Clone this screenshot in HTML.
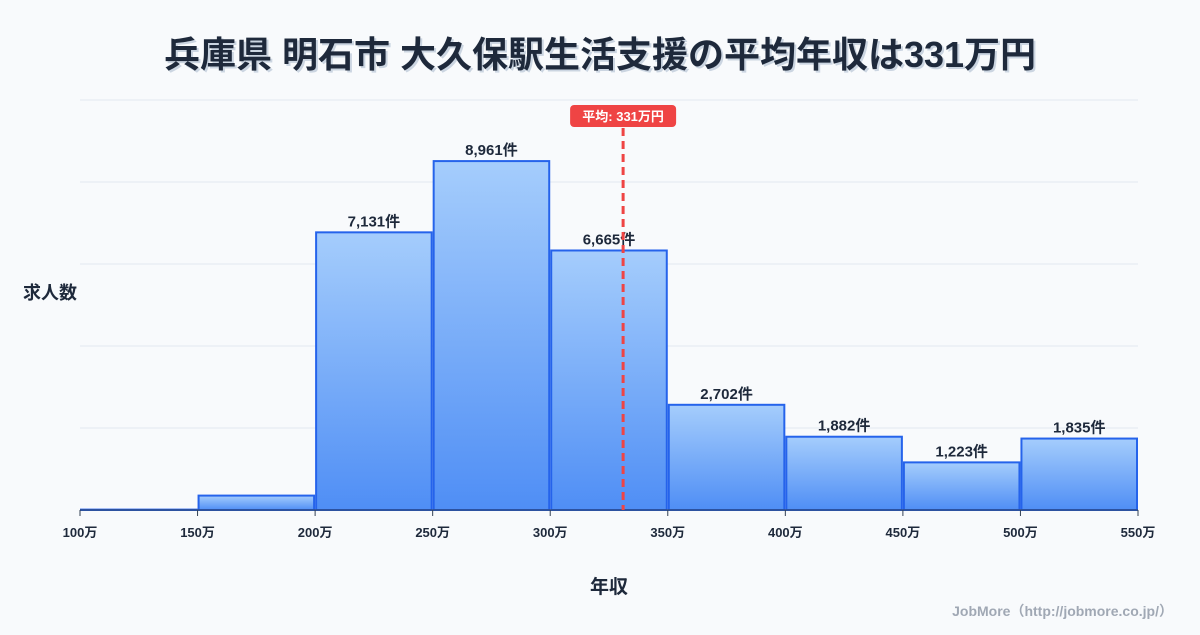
<!DOCTYPE html>
<html><head><meta charset="utf-8"><style>
body{margin:0;background:#f8fafc;font-family:"Liberation Sans","Noto Sans CJK JP",sans-serif;}
svg text{font-family:"Liberation Sans","Noto Sans CJK JP",sans-serif;}
</style></head><body>
<svg id="c" width="1200" height="630" viewBox="0 0 1200 630">
<defs><linearGradient id="g" x1="0" y1="0" x2="0" y2="1"><stop offset="0" stop-color="#a5cdfc"/><stop offset="1" stop-color="#4f8ef5"/></linearGradient></defs>
<text x="600" y="67" text-anchor="middle" font-size="36" font-weight="bold" fill="#1e293b" style="text-shadow:2px 2px 0 #cbd5e1">兵庫県 明石市 大久保駅生活支援の平均年収は331万円</text>
<text x="50" y="299" text-anchor="middle" font-size="18" font-weight="bold" fill="#1e293b">求人数</text>
<text x="609" y="593" text-anchor="middle" font-size="19" font-weight="bold" fill="#1e293b">年収</text>
<text x="1173" y="616" text-anchor="end" font-size="14" font-weight="bold" fill="#a0a8b4">JobMore（http://jobmore.co.jp/）</text>
<g id="grid"></g><g id="bars"></g><g id="xt"></g><g id="mean"></g>
</svg>
<script>
const binStarts=[100,150,200,250,300,350,400,450,500];
const counts=[10,370,7131,8961,6665,2702,1882,1223,1835];
const labels=["","","7,131件","8,961件","6,665件","2,702件","1,882件","1,223件","1,835件"];
const xTicks=[100,150,200,250,300,350,400,450,500,550];
const meanValue=331;
const NS="http://www.w3.org/2000/svg";
const x0=80,x1=1138,y0=510,yTop=100,xmin=100,xmax=550,ymax=10530;
const X=v=>x0+(v-xmin)/(xmax-xmin)*(x1-x0);
const Y=v=>y0-v/ymax*(y0-yTop);
function mk(t,a,p){const e=document.createElementNS(NS,t);for(const k in a)e.setAttribute(k,a[k]);p.appendChild(e);return e;}
const grid=document.getElementById('grid');
for(let i=0;i<=5;i++){const y=y0-i*(y0-yTop)/5;const l=mk('line',{x1:x0,x2:x1,y1:y,y2:y,stroke:'#e2e8f0','stroke-width':1},grid);

}
const bars=document.getElementById('bars');
binStarts.forEach((s,i)=>{const xa=X(s)+1,xb=X(s+50)-1,y=Y(counts[i]);
const r=mk('rect',{x:xa,y:y,width:xb-xa,height:y0-y,fill:'url(#g)',stroke:'#2563eb','stroke-width':2},bars);


if(labels[i]){const t=mk('text',{x:(xa+xb)/2,y:y-6,'text-anchor':'middle','font-size':15,'font-weight':'bold',fill:'#1e293b'},bars);t.textContent=labels[i];

}});
const xt=document.getElementById('xt');
mk('line',{x1:x0,x2:x1,y1:y0,y2:y0,stroke:'#334155','stroke-width':1},xt);
xTicks.forEach(v=>{mk('line',{x1:X(v),x2:X(v),y1:y0,y2:y0+6,stroke:'#334155'},xt);
const t=mk('text',{x:X(v),y:y0+27,'text-anchor':'middle','font-size':13,'font-weight':'bold',fill:'#1e293b'},xt);t.textContent=v+'万';

});
const m=document.getElementById('mean');const mx=X(meanValue);
const ml=mk('line',{x1:mx,x2:mx,y1:128,y2:y0,stroke:'#ef4444','stroke-width':3,'stroke-dasharray':'8,5'},m);


const mb=mk('rect',{x:mx-53,y:105,width:106,height:22,rx:4,fill:'#ef4444'},m);


const mt=mk('text',{x:mx,y:121,'text-anchor':'middle','font-size':13,'font-weight':'bold',fill:'#fff'},m);mt.textContent='平均: '+meanValue+'万円';


</script>
</body></html>
